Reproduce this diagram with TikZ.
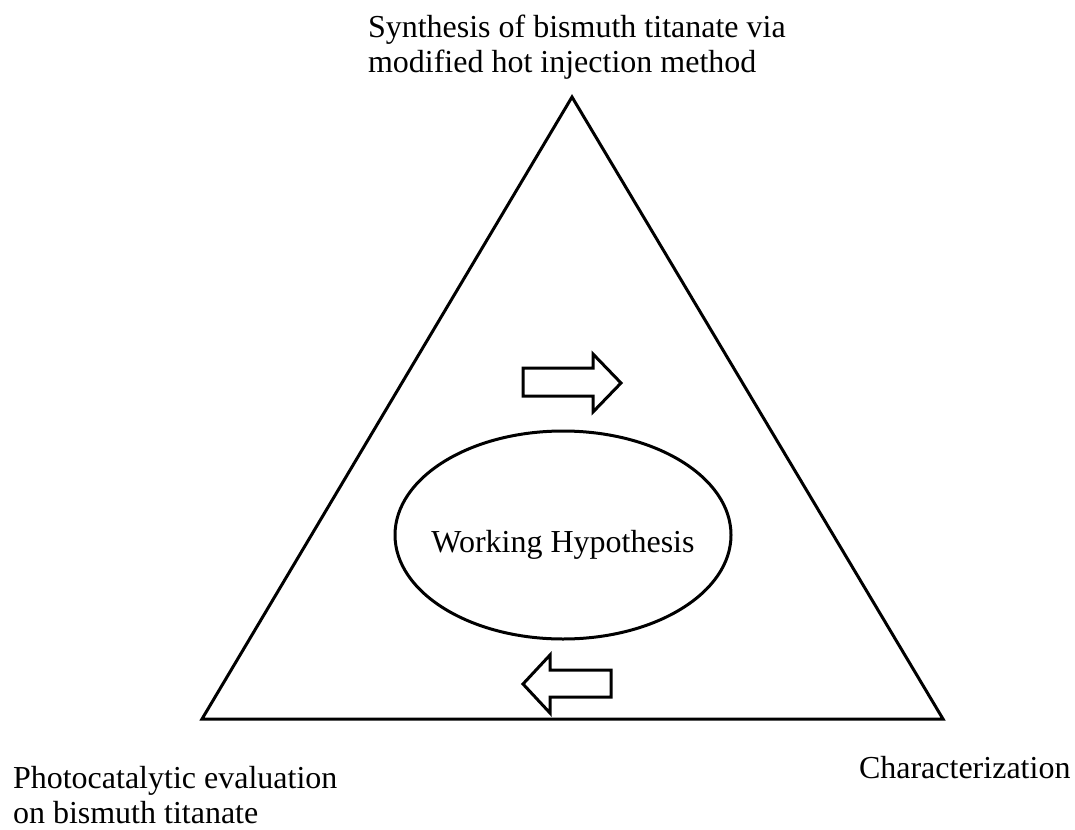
\documentclass[tikz,border=0pt]{standalone}
\usepackage{fontspec}
\setmainfont{Liberation Serif}
\usetikzlibrary{shapes.geometric}
\tikzset{
  outline/.style={draw=black, line width=3pt, line join=miter},
  lbl/.style={inner sep=0pt, outer sep=0pt, font=\fontsize{32}{35}\selectfont, align=left},
  hollow/.style={draw=black, line width=3pt, fill=white, line join=miter}
}
\begin{document}
\begin{tikzpicture}[x=1pt,y=-1pt]
\useasboundingbox (0,0) rectangle (1075,829);
% triangle corners
\coordinate (apex) at (572,97);
\coordinate (bl) at (202,719);
\coordinate (br) at (943,719);
\draw[outline] (apex) -- (bl) -- (br) -- cycle;
% ellipse
\node[ellipse, outline, minimum width=336pt, minimum height=208pt, inner sep=0pt] (hyp) at (563,535) {};
\node[lbl, anchor=base] (hyptext) at (563,552) {Working Hypothesis};
% right arrow
\draw[hollow] (523,368) -- (593,368) -- (593,354) -- (621,383) -- (593,412) -- (593,396) -- (523,396) -- cycle;
% left arrow
\draw[hollow] (611,670) -- (550,670) -- (550,655) -- (523,684) -- (550,713) -- (550,697) -- (611,697) -- cycle;
% labels
\node[lbl, anchor=north west] (top) at (368,15) {Synthesis of bismuth titanate via\\modified hot injection method};
\node[lbl, anchor=north west] (left) at (13,766) {Photocatalytic evaluation\\on bismuth titanate};
\node[lbl, anchor=base west] (right) at (859,778) {Characterization};
\end{tikzpicture}
\end{document}
